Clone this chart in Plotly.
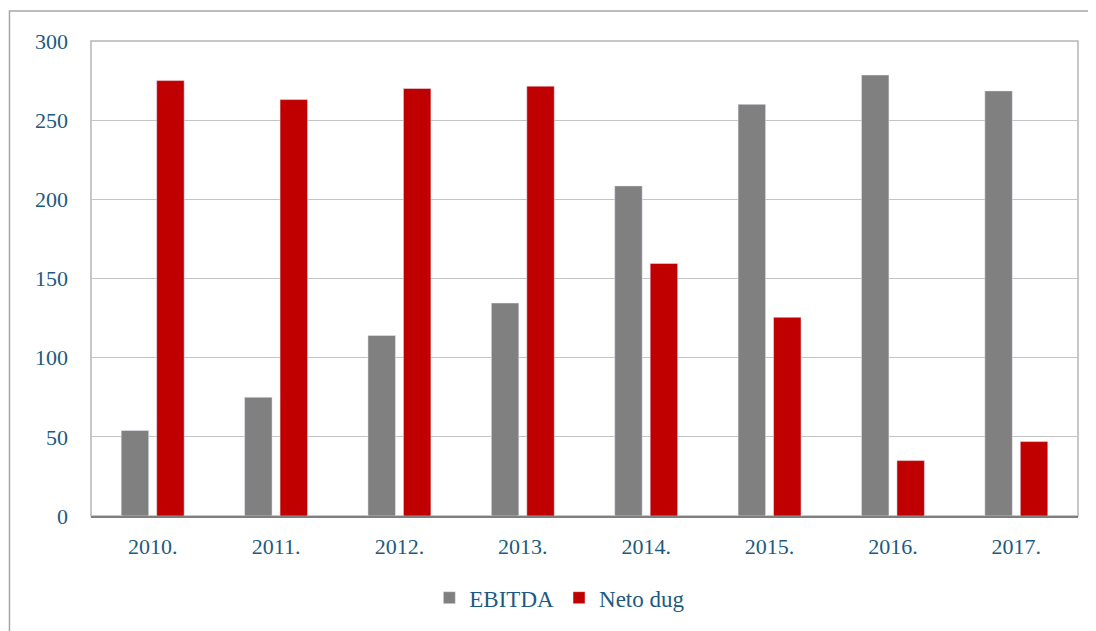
import plotly.graph_objects as go

godine = ["2010.", "2011.", "2012.", "2013.", "2014.", "2015.", "2016.", "2017."]
ebitda = [54, 75, 114, 134.5, 208.5, 260, 278.5, 268.5]
neto_dug = [275, 263, 270, 271.5, 159.5, 125.5, 35, 47]
y_tickovi = [0, 50, 100, 150, 200, 250, 300]

BOJA_TEKST = "#1d5a80"
FONT = "Liberation Serif"

fig = go.Figure()
fig.add_trace(go.Bar(x=godine, y=ebitda, name="EBITDA", marker=dict(color="#808080")))
fig.add_trace(go.Bar(x=godine, y=neto_dug, name="Neto dug", marker=dict(color="#c00000")))

# stranica ima 8 px margine u body, pa je graf malo manji i pomaknut
fig.update_layout(
    width=1088,
    height=623,
    margin=dict(l=83, r=18, t=33, b=115),
    paper_bgcolor="white",
    plot_bgcolor="white",
    barmode="group",
    bargap=0.425,
    bargroupgap=0.225,
    font=dict(family=FONT, color=BOJA_TEKST, size=22),
    showlegend=True,
    legend=dict(
        orientation="h",
        x=0.475, xanchor="center",
        y=-0.172, yanchor="middle",
        font=dict(size=23, family=FONT, color=BOJA_TEKST),
        itemwidth=30,
        traceorder="normal",
    ),
    xaxis=dict(
        showline=True, linecolor="#7f7f7f", linewidth=2,
        ticks="", ticklabelstandoff=10,
        tickfont=dict(size=22),
    ),
    yaxis=dict(
        range=[0, 300], tickvals=y_tickovi,
        showgrid=True, gridcolor="#c4c4c4", gridwidth=1,
        zeroline=False, ticks="", ticklabelstandoff=22,
        tickfont=dict(size=22),
    ),
    shapes=[
        # okvir oko područja crteža
        dict(type="rect", xref="paper", yref="paper", x0=0, x1=1, y0=0, y1=1,
             line=dict(color="#b5b5b5", width=1.5), layer="below"),
        # vanjski okvir grafikona
        dict(type="rect", xref="paper", yref="paper", x0=-0.0826, x1=1.1, y0=-0.5, y1=1.063,
             line=dict(color="#a6a6a6", width=1.5)),
    ],
)

fig.write_html("out.html")
